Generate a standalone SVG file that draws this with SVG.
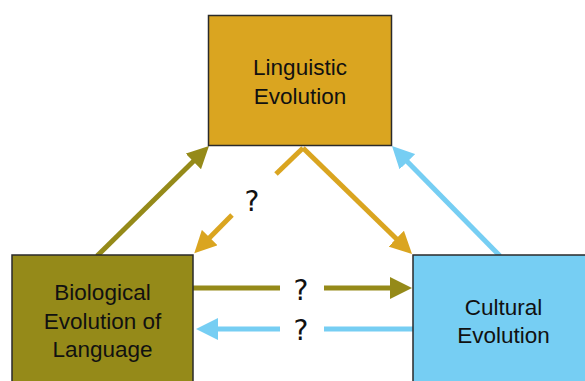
<svg xmlns="http://www.w3.org/2000/svg" width="585" height="381" viewBox="0 0 585 381">
<defs>
<style>
.box{stroke:#2a2a2a;stroke-width:1.5}
.lbl{font-family:"Liberation Sans",Arial,sans-serif;font-size:22.5px;fill:#111;text-anchor:middle}
.q{font-family:"DejaVu Sans",Verdana,sans-serif;font-size:28px;fill:#111;text-anchor:middle}
.ln{fill:none;stroke-width:5}
.gold{stroke:#DAA520}
.olive{stroke:#958A19}
.blue{stroke:#76CEF3}
</style>
<marker id="mg" markerUnits="userSpaceOnUse" markerWidth="22" markerHeight="22" refX="8" refY="11" orient="auto" viewBox="0 0 22 22"><path d="M0,0 L22,11 L0,22 z" fill="#DAA520"/></marker>
<marker id="mo" markerUnits="userSpaceOnUse" markerWidth="22" markerHeight="22" refX="8" refY="11" orient="auto" viewBox="0 0 22 22"><path d="M0,0 L22,11 L0,22 z" fill="#958A19"/></marker>
<marker id="mb" markerUnits="userSpaceOnUse" markerWidth="22" markerHeight="22" refX="8" refY="11" orient="auto" viewBox="0 0 22 22"><path d="M0,0 L22,11 L0,22 z" fill="#76CEF3"/></marker>
</defs>
<rect width="585" height="381" fill="#fff"/>
<g id="connectors">
<line class="ln olive" x1="97" y1="256" x2="199" y2="155.8" marker-end="url(#mo)"/>
<line class="ln gold" x1="303" y1="148" x2="276" y2="174"/>
<line class="ln gold" x1="232" y1="215" x2="204.1" y2="243.3" marker-end="url(#mg)"/>
<line class="ln gold" x1="303" y1="148" x2="402" y2="244.2" marker-end="url(#mg)"/>
<line class="ln blue" x1="500" y1="256" x2="401.8" y2="156" marker-end="url(#mb)"/>
<line class="ln olive" x1="193" y1="288" x2="280" y2="288"/>
<line class="ln olive" x1="324" y1="288" x2="398" y2="288" marker-end="url(#mo)"/>
<line class="ln blue" x1="413" y1="329" x2="324" y2="329"/>
<line class="ln blue" x1="280" y1="329" x2="210" y2="329" marker-end="url(#mb)"/>
<text class="q" x="252" y="210.5">?</text>
<text class="q" x="301" y="299.5">?</text>
<text class="q" x="301" y="340">?</text>
</g>
<g id="linguistic">
<rect class="box" x="208.5" y="15.5" width="183" height="130" fill="#DAA520"/>
<text class="lbl" x="300" y="75">Linguistic</text>
<text class="lbl" x="300" y="104">Evolution</text>
</g>
<g id="biological">
<rect class="box" x="12" y="255" width="181" height="140" fill="#958A19"/>
<text class="lbl" x="102.5" y="300">Biological</text>
<text class="lbl" x="102.5" y="328.5">Evolution of</text>
<text class="lbl" x="102.5" y="357">Language</text>
</g>
<g id="cultural">
<rect class="box" x="413" y="255" width="180" height="140" fill="#76CEF3"/>
<text class="lbl" x="503.5" y="315">Cultural</text>
<text class="lbl" x="503.5" y="343">Evolution</text>
</g>
</svg>
